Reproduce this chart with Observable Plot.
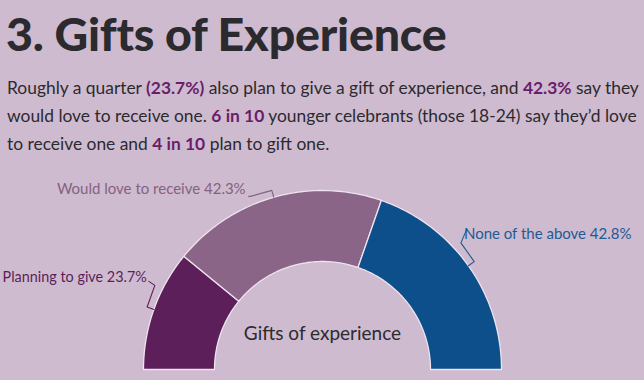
<!DOCTYPE html>
<html>
<head>
<meta charset="utf-8">
<script src="https://cdn.jsdelivr.net/npm/d3@7"></script>
<script src="https://cdn.jsdelivr.net/npm/@observablehq/plot@0.6"></script>
<style>
  html, body { margin: 0; padding: 0; background: #cebbd0; }
  body { width: 644px; height: 380px; overflow: hidden; font-family: Lato, "Noto Sans", sans-serif; }
  #header { position: relative; height: 165px; }
  #title { position: absolute; left: 6px; top: 5px; font-size: 46.5px; font-weight: 900; color: #2b2a2e; line-height: 56px; white-space: nowrap; letter-spacing: -0.2px; }
  #sub { position: absolute; left: 7px; top: 74px; font-size: 17.4px; line-height: 28px; color: #2b2a2e; white-space: nowrap; }
  #sub b { color: #6a1e69; font-weight: 700; }
  #chart svg { display: block; }
</style>
</head>
<body>
<div id="header">
  <div id="title">3. Gifts of Experience</div>
  <div id="sub">Roughly a quarter <b>(23.7%)</b> also plan to give a gift of experience, and <b>42.3%</b> say they<br>would love to receive one. <b>6 in 10</b> younger celebrants (those 18-24) say they’d love<br>to receive one and <b>4 in 10</b> plan to gift one.</div>
</div>
<div id="chart"></div>
<script>
// ---- data ----
const categories = ["Planning to give", "Would love to receive", "None of the above"];
const values = [23.7, 42.3, 42.8];
const valueLabels = ["23.7%", "42.3%", "42.8%"];
const centerLabel = "Gifts of experience";

// ---- styles ----
const fills = ["#5c1f5a", "#8a6587", "#0d4f8b"];
const labelFills = ["#5c1f5a", "#85627f", "#1f5a93"];

// ---- geometry (unit radius = outer radius) ----
const W = 644, H = 215;
const R = 179;            // outer radius in px
const cx = 322, cy = 204; // centre in svg px
const inner = 108 / R;
const total = d3.sum(values);
const deg = Math.PI / 180;
const pt = (r, phi) => ({x: -r * Math.cos(phi), y: r * Math.sin(phi)});

let acc = 0;
const slices = values.map((v, i) => {
  const a0 = acc / total * Math.PI;
  acc += v;
  const a1 = acc / total * Math.PI;
  return {i, a0, a1, mid: (a0 + a1) / 2};
});

const arcPts = [];
for (const s of slices) {
  const n = Math.max(2, Math.ceil((s.a1 - s.a0) / deg));
  const outer = d3.range(n + 1).map(k => s.a0 + (s.a1 - s.a0) * k / n);
  outer.forEach(a => arcPts.push({...pt(1, a), key: categories[s.i]}));
  outer.slice().reverse().forEach(a => arcPts.push({...pt(inner, a), key: categories[s.i]}));
}

// leader lines: tick at slice midpoint, tangent run toward the label, connector to text
const layout = [
  {dir: +1, len: 23, conn: [-6, -4], text: [-2, -4], anchor: "end"},
  {dir: -1, len: 22, conn: [-2, 0], text: [-3, -7], anchor: "end"},
  {dir: -1, len: 23, conn: [6, -14], text: [-3, 5], anchor: "start"}
];
const leaders = [];
const texts = [];
slices.forEach((s, i) => {
  const L = layout[i];
  const A = pt(1.0, s.mid);
  const B = pt(1.04, s.mid);
  const t = {x: Math.sin(s.mid) * L.dir, y: Math.cos(s.mid) * L.dir};
  const C = {x: B.x + t.x * L.len / R, y: B.y + t.y * L.len / R};
  const D = {x: C.x + L.conn[0] / R, y: C.y - L.conn[1] / R};
  [A, B, C, D].forEach(p => leaders.push({...p, key: categories[i]}));
  texts.push({x: D.x + L.text[0] / R, y: D.y - L.text[1] / R,
              label: `${categories[i]} ${valueLabels[i]}`, anchor: L.anchor, i});
});

const colorOf = Object.fromEntries(categories.map((c, i) => [c, fills[i]]));
const lineColorOf = Object.fromEntries(categories.map((c, i) => [c, labelFills[i]]));

const chart = Plot.plot({
  width: W, height: H, margin: 0,
  style: {background: "transparent", overflow: "visible"},
  x: {domain: [-cx / R, (W - cx) / R], axis: null},
  y: {domain: [-(H - cy) / R, cy / R], axis: null},
  marks: [
    ...categories.map(c => Plot.line(arcPts.filter(d => d.key === c), {
      x: "x", y: "y", curve: "linear-closed",
      fill: colorOf[c], stroke: "#eee3ef", strokeWidth: 1.3, strokeLinejoin: "round"
    })),
    ...categories.map(c => Plot.line(leaders.filter(d => d.key === c), {
      x: "x", y: "y", stroke: lineColorOf[c], strokeWidth: 1.1
    })),
    ...texts.map(t => Plot.text([t], {
      x: "x", y: "y", text: "label", textAnchor: t.anchor, lineAnchor: "middle",
      fill: labelFills[t.i], fontSize: t.i === 0 ? 14.4 : 15, fontFamily: "Lato, sans-serif"
    })),
    Plot.text([centerLabel], {
      x: () => 0, y: () => 36 / R, text: d => d, lineAnchor: "middle",
      fill: "#2b2a2e", fontSize: 19, fontFamily: "Lato, sans-serif"
    })
  ]
});
document.getElementById("chart").appendChild(chart);
</script>
</body>
</html>
